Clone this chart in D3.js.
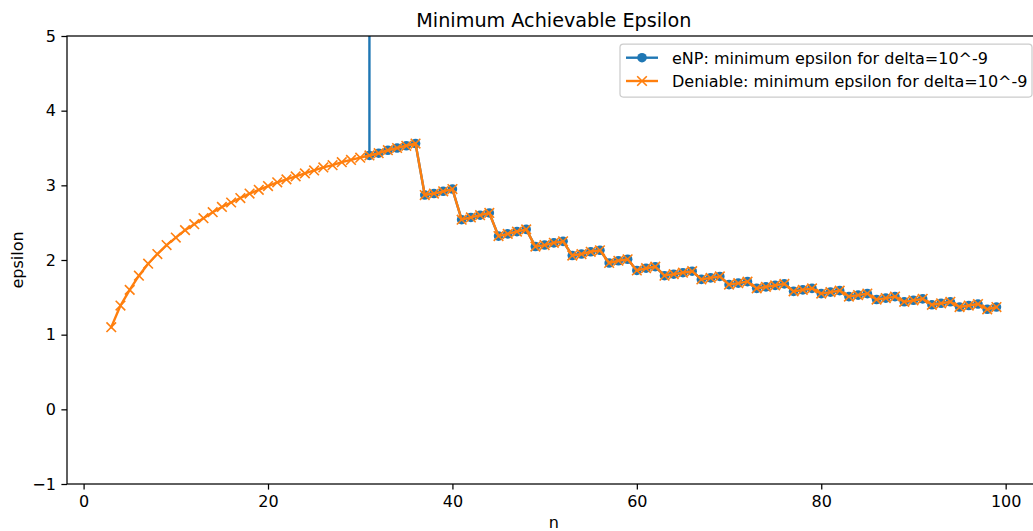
<!DOCTYPE html>
<html>
<head>
<meta charset="utf-8">
<script src="https://cdn.jsdelivr.net/npm/d3@7/dist/d3.min.js"></script>
<style>
  html, body { margin: 0; padding: 0; background: #fff; }
  svg { display: block; font-family: "DejaVu Sans", sans-serif; }
</style>
</head>
<body>
<div id="chart"></div>
<script>
// ---- data ----
const deniableN = d3.range(3, 100);
const deniableEps = [
  1.10, 1.39, 1.60, 1.79, 1.95, 2.08, 2.20, 2.30, 2.40, 2.48,   // 3-12
  2.56, 2.64, 2.71, 2.77, 2.83, 2.89, 2.94, 2.99, 3.04, 3.08,   // 13-22
  3.12, 3.16, 3.20, 3.24, 3.27, 3.31, 3.34, 3.37,               // 23-30
  3.40, 3.43, 3.47, 3.50, 3.53, 3.56,                           // 31-36
  2.87, 2.89, 2.92, 2.95,                                       // 37-40
  2.54, 2.57, 2.60, 2.63,                                       // 41-44
  2.32, 2.35, 2.38, 2.41,                                       // 45-48
  2.18, 2.20, 2.23, 2.25,                                       // 49-52
  2.06, 2.08, 2.11, 2.13,                                       // 53-56
  1.96, 1.99, 2.01,                                             // 57-59
  1.86, 1.89, 1.91,                                             // 60-62
  1.79, 1.81, 1.83, 1.85,                                       // 63-66
  1.74, 1.76, 1.78,                                             // 67-69
  1.67, 1.69, 1.71,                                             // 70-72
  1.62, 1.64, 1.66, 1.68,                                       // 73-76
  1.58, 1.60, 1.62,                                             // 77-79
  1.55, 1.57, 1.59,                                             // 80-82
  1.51, 1.53, 1.55,                                             // 83-85
  1.47, 1.49, 1.51,                                             // 86-88
  1.44, 1.46, 1.48,                                             // 89-91
  1.40, 1.42, 1.44,                                             // 92-94
  1.37, 1.39, 1.41,                                             // 95-97
  1.34, 1.37                                                    // 98-99
];
// eNP: undefined below n=30, very large at n=30, identical to deniable afterwards
const enpN = d3.range(30, 100);
const enpEps = [1000].concat(deniableEps.slice(31 - 3));

const xTicks = [0, 20, 40, 60, 80, 100];
const yTicks = [-1, 0, 1, 2, 3, 4, 5];
const titleText = "Minimum Achievable Epsilon";
const xLabel = "n";
const yLabel = "epsilon";
const legendLabels = ["eNP: minimum epsilon for delta=10^-9", "Deniable: minimum epsilon for delta=10^-9"];
const colors = ["#1f77b4", "#ff7f0e"];

// ---- layout ----
const W = 1033, H = 531;
const pLeft = 67, pTop = 36, pBottom = 484;
const x = d3.scaleLinear().domain([-1.8, 103.8]).range([67, 1040.7]);
const y = d3.scaleLinear().domain([-1, 5]).range([pBottom, pTop]);
const pRight = x(103.8);
const fs = 16, lwid = 2.4, mr = 4.8, medge = 1.6, tlen = 5.6;

const svg = d3.select("#chart").append("svg").attr("width", W).attr("height", H);

svg.append("defs").append("clipPath").attr("id", "clip")
  .append("rect").attr("x", pLeft).attr("y", pTop).attr("width", pRight - pLeft).attr("height", pBottom - pTop);

const enp = enpN.map((n, i) => [n, enpEps[i]]);
const den = deniableN.map((n, i) => [n, deniableEps[i]]);

const line = d3.line().x(d => x(d[0])).y(d => y(d[1]));
const plot = svg.append("g").attr("clip-path", "url(#clip)");

// eNP
plot.append("path").datum(enp).attr("d", line).attr("fill", "none")
  .attr("stroke", colors[0]).attr("stroke-width", lwid).attr("stroke-linejoin", "round").attr("stroke-linecap", "square");
plot.append("g").selectAll("circle").data(enp).join("circle")
  .attr("cx", d => x(d[0])).attr("cy", d => y(d[1])).attr("r", mr).attr("fill", colors[0]);

// Deniable
plot.append("path").datum(den).attr("d", line).attr("fill", "none")
  .attr("stroke", colors[1]).attr("stroke-width", lwid).attr("stroke-linejoin", "round").attr("stroke-linecap", "square");
const xs = mr;
plot.append("g").selectAll("path").data(den).join("path")
  .attr("d", d => {
    const cx = x(d[0]), cy = y(d[1]);
    return `M${cx - xs},${cy - xs}L${cx + xs},${cy + xs}M${cx - xs},${cy + xs}L${cx + xs},${cy - xs}`;
  })
  .attr("stroke", colors[1]).attr("stroke-width", medge).attr("fill", "none");

// ---- axes ----
const xAxis = d3.axisBottom(x).tickValues(xTicks).tickSize(tlen).tickPadding(tlen).tickFormat(d3.format("d"));
const yAxis = d3.axisLeft(y).tickValues(yTicks).tickSize(tlen).tickPadding(tlen)
  .tickFormat(d => d < 0 ? "\u2212" + Math.abs(d) : String(d));

const gx = svg.append("g").attr("transform", `translate(0,${pBottom})`).call(xAxis);
const gy = svg.append("g").attr("transform", `translate(${pLeft},0)`).call(yAxis);
[gx, gy].forEach(g => {
  g.select(".domain").remove();
  g.selectAll(".tick line").attr("stroke", "#000").attr("stroke-width", 1.25);
  g.selectAll(".tick text").attr("fill", "#000").style("font-size", fs + "px").style("font-family", "DejaVu Sans");
});

// spines
svg.append("rect").attr("x", pLeft).attr("y", pTop).attr("width", pRight - pLeft).attr("height", pBottom - pTop)
  .attr("fill", "none").attr("stroke", "#000").attr("stroke-width", 1.25);

// title & labels
svg.append("text").attr("x", (pLeft + pRight) / 2).attr("y", 27).attr("text-anchor", "middle")
  .style("font-size", "19.2px").attr("fill", "#000").text(titleText);
svg.append("text").attr("x", (pLeft + pRight) / 2).attr("y", 528).attr("text-anchor", "middle")
  .style("font-size", fs + "px").attr("fill", "#000").text(xLabel);
svg.append("text").attr("transform", `translate(23,${(pTop + pBottom) / 2}) rotate(-90)`).attr("text-anchor", "middle")
  .style("font-size", fs + "px").attr("fill", "#000").text(yLabel);

// ---- legend ----
const lg = svg.append("g");
const lx = 620, ly = 44, lw = 412, lh = 53;
lg.append("rect").attr("x", lx).attr("y", ly).attr("width", lw).attr("height", lh).attr("rx", 3.2)
  .attr("fill", "#fff").attr("fill-opacity", 0.8).attr("stroke", "#cccccc").attr("stroke-width", 1.25);
legendLabels.forEach((lab, i) => {
  const cy = 57.7 + i * 23.3;
  const hx0 = 626, hx1 = 658, hm = (hx0 + hx1) / 2;
  lg.append("line").attr("x1", hx0).attr("x2", hx1).attr("y1", cy).attr("y2", cy)
    .attr("stroke", colors[i]).attr("stroke-width", lwid);
  if (i === 0) {
    lg.append("circle").attr("cx", hm).attr("cy", cy).attr("r", mr).attr("fill", colors[0]);
  } else {
    lg.append("path").attr("d", `M${hm - xs},${cy - xs}L${hm + xs},${cy + xs}M${hm - xs},${cy + xs}L${hm + xs},${cy - xs}`)
      .attr("stroke", colors[1]).attr("stroke-width", medge);
  }
  lg.append("text").attr("x", 672).attr("y", cy + 5.8).style("font-size", fs + "px").attr("fill", "#000").text(lab);
});
</script>
</body>
</html>
